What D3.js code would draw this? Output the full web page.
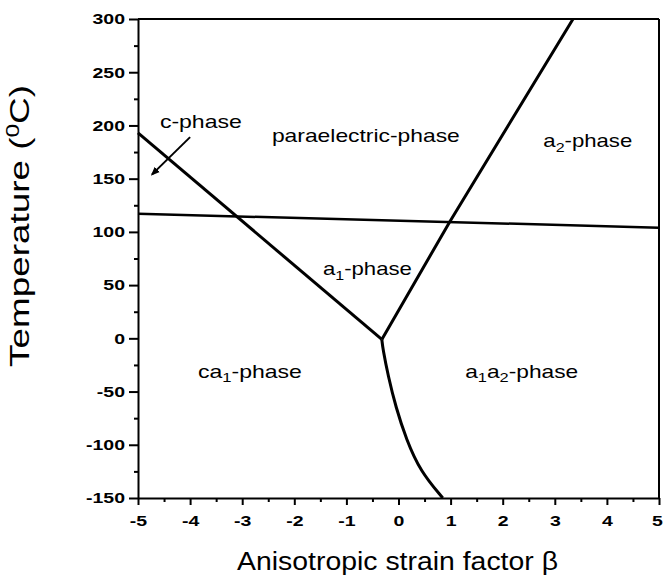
<!DOCTYPE html>
<meta charset="utf-8">
<script src="https://d3js.org/d3.v7.min.js"></script>
<style>
  body { margin: 0; background: #fff; }
  text { font-family: "Liberation Sans", Arial, sans-serif; fill: #000; }
</style>
<div id="my_dataviz"></div>
<script>
  // phase boundaries (beta, temperature in C)
  var cBeta = [-5, -0.32],               cTemp = [193, -1];
  var a2Beta = [-0.32, 0.99, 3.35],      a2Temp = [-1, 110, 300];
  var paraBeta = [-5, 5],                paraTemp = [117, 104];
  var curveBeta = [-0.32, -0.30, -0.20, -0.05, 0.15, 0.42, 0.85];
  var curveTemp = [-1, -10, -35, -65, -95, -125, -150];
  var arrowBeta = [-4.0, -4.73],         arrowTemp = [189, 154];

  var xTicks = [-5, -4, -3, -2, -1, 0, 1, 2, 3, 4, 5];
  var yTicks = [-150, -100, -50, 0, 50, 100, 150, 200, 250, 300];

  // phase labels: [parts (text, sub?)], anchor beta, anchor temp
  var labelParts = [
    [["c-phase", 0]],
    [["paraelectric-phase", 0]],
    [["a", 0], ["2", 1], ["-phase", 0]],
    [["a", 0], ["1", 1], ["-phase", 0]],
    [["ca", 0], ["1", 1], ["-phase", 0]],
    [["a", 0], ["1", 1], ["a", 0], ["2", 1], ["-phase", 0]]
  ];
  var labelBeta = [-4.58, -2.43, 2.78, -1.45, -3.85, 1.28];
  var labelTemp = [197.6, 184.4, 179.7, 59.4, -37.4, -37.4];
  var labelWidth = [82, 188, 89, 89, 104, 113];

  var margin = {top: 19, right: 4, bottom: 80, left: 138},
      width = 663 - margin.left - margin.right,
      height = 578 - margin.top - margin.bottom;

  var svg = d3.select("#my_dataviz")
    .append("svg")
      .attr("width", 663)
      .attr("height", 578)
    .append("g")
      .attr("transform", "translate(" + margin.left + "," + margin.top + ")");

  var x = d3.scaleLinear().domain([-5, 5]).range([0, width]);
  var y = d3.scaleLinear().domain([-150, 300]).range([height, 0]);

  // stretch a text horizontally so it takes a given width
  function fit(sel, w) {
    var bw = sel.node().getBBox().width;
    return w / bw;
  }

  // minor ticks
  svg.append("g")
    .attr("transform", "translate(0," + height + ")")
    .call(d3.axisBottom(x).tickValues(d3.range(-4.5, 5, 1)).tickSize(4).tickFormat(""))
    .call(function(g) { g.select(".domain").remove(); })
    .selectAll("line").attr("stroke-width", 2);
  svg.append("g")
    .call(d3.axisLeft(y).tickValues(d3.range(-125, 300, 50)).tickSize(4).tickFormat(""))
    .call(function(g) { g.select(".domain").remove(); })
    .selectAll("line").attr("stroke-width", 2);

  // major ticks (plain hyphen for negatives, as in the figure)
  var fmt = function(d) { return String(d); };
  var xAxis = svg.append("g")
    .attr("transform", "translate(0," + height + ")")
    .call(d3.axisBottom(x).tickValues(xTicks).tickFormat(fmt).tickSize(7).tickPadding(10).tickSizeOuter(0));
  var yAxis = svg.append("g")
    .call(d3.axisLeft(y).tickValues(yTicks).tickFormat(fmt).tickSize(9).tickSizeOuter(0));

  [xAxis, yAxis].forEach(function(a) {
    a.select(".domain").attr("stroke-width", 2);
    a.selectAll(".tick line").attr("stroke-width", 2);
    a.selectAll("text")
      .style("font-size", "15px")
      .style("font-weight", "bold")
      .attr("fill", "#000");
  });
  xAxis.selectAll("text").attr("transform", function(d) {
    return d === 5 ? "translate(-2,0) scale(1.3,1)" : "scale(1.3,1)";
  });
  yAxis.selectAll("text")
    .attr("x", 0)
    .attr("transform", "translate(-13,0) scale(1.3,1)");

  // top and right frame
  svg.append("line").attr("x1", 0).attr("x2", width).attr("y1", 0).attr("y2", 0)
    .attr("stroke", "#000").attr("stroke-width", 2);
  svg.append("line").attr("x1", width).attr("x2", width).attr("y1", 0).attr("y2", height)
    .attr("stroke", "#000").attr("stroke-width", 2);

  // boundaries
  function path(bs, ts, curve, sw) {
    svg.append("path")
      .datum(d3.zip(bs, ts))
      .attr("fill", "none")
      .attr("stroke", "#000")
      .attr("stroke-width", sw)
      .attr("stroke-linejoin", "round")
      .attr("d", d3.line()
        .x(function(d) { return x(d[0]); })
        .y(function(d) { return y(d[1]); })
        .curve(curve));
  }
  path(paraBeta, paraTemp, d3.curveLinear, 2.5);
  path(cBeta, cTemp, d3.curveLinear, 3);
  path(a2Beta, a2Temp, d3.curveLinear, 3);
  path(curveBeta, curveTemp, d3.curveBasis, 3);

  // arrow towards the c-phase region
  svg.append("defs").append("marker")
    .attr("id", "head")
    .attr("viewBox", "0 0 10 10")
    .attr("refX", 8).attr("refY", 5)
    .attr("markerWidth", 9).attr("markerHeight", 9)
    .attr("markerUnits", "userSpaceOnUse")
    .attr("orient", "auto")
    .append("path").attr("d", "M0,1 L10,5 L0,9 Z").attr("fill", "#000");
  svg.append("line")
    .attr("x1", x(arrowBeta[0])).attr("y1", y(arrowTemp[0]))
    .attr("x2", x(arrowBeta[1])).attr("y2", y(arrowTemp[1]))
    .attr("stroke", "#000").attr("stroke-width", 2)
    .attr("marker-end", "url(#head)");

  // phase labels
  labelParts.forEach(function(parts, i) {
    var t = svg.append("text").style("font-size", "18px");
    parts.forEach(function(p) {
      t.append("tspan")
        .attr("baseline-shift", p[1] ? "-30%" : null)
        .style("font-size", p[1] ? "13px" : null)
        .text(p[0]);
    });
    var k = fit(t, labelWidth[i]);
    t.attr("transform", "translate(" + x(labelBeta[i]) + "," + y(labelTemp[i]) + ") scale(" + k + ",1)");
  });

  // axis titles
  var xt = svg.append("text")
    .attr("text-anchor", "middle")
    .style("font-size", "25px")
    .text("Anisotropic strain factor \u03b2");
  xt.attr("transform", "translate(" + (width / 2 - 1) + "," + (height + 72) + ") scale(" + fit(xt, 321) + ",1)");

  var yt = svg.append("text")
    .attr("text-anchor", "middle")
    .style("font-size", "27px");
  yt.append("tspan").text("Temperature (");
  yt.append("tspan").attr("baseline-shift", "super").style("font-size", "18px").text("0");
  yt.append("tspan").text("C)");
  yt.attr("transform", "translate(" + (29 - margin.left) + "," + (226 - margin.top) + ") rotate(-90) scale(" + fit(yt, 282) + ",1)");
</script>
